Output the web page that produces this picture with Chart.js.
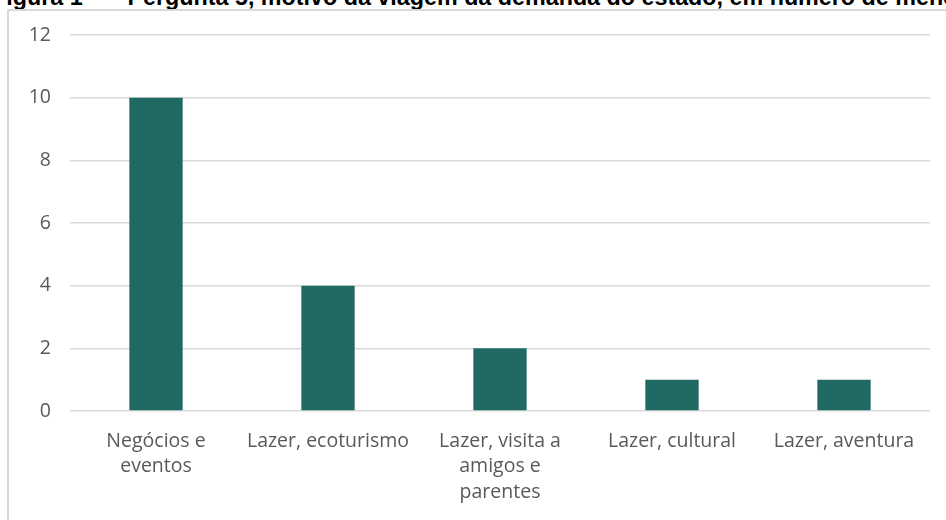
<!DOCTYPE html>
<html>
<head>
<meta charset="utf-8">
<script src="https://cdn.jsdelivr.net/npm/chart.js@4"></script>
<style>
  html, body { margin: 0; padding: 0; background: #fff; overflow: hidden; }
  body { width: 946px; height: 520px; position: relative; }
  #title {
    position: absolute; left: -8px; top: -16px; white-space: nowrap; line-height: 1;
    font: bold 23.3px "Liberation Sans", Arial, sans-serif; color: #000;
  }
  #title span { margin-left: 19px; }
  #frame {
    position: absolute; left: 7px; top: 9px; width: 939px; height: 511px;
    border-left: 2px solid #d9d9d9; border-top: 2px solid #d9d9d9;
    background: #fff;
  }
  #wrap { position: absolute; left: 0; top: 0; width: 937px; height: 509px; }
</style>
</head>
<body>
<div id="title">Figura 1 – <span>Pergunta 5, motivo da viagem da demanda do estado, em número de menções</span></div>
<div id="frame"><div id="wrap"><canvas id="chart"></canvas></div></div>
<script>
const categories = [
  ["Negócios e", "eventos"],
  "Lazer, ecoturismo",
  ["Lazer, visita a", "amigos e", "parentes"],
  "Lazer, cultural",
  "Lazer, aventura"
];
const respostas = [10, 4, 2, 1, 1];
const yTicks = [0, 2, 4, 6, 8, 10, 12];

const labelFont = { family: "'Open Sans', 'Noto Sans', sans-serif", size: 19.5, lineHeight: 1.33 };

new Chart(document.getElementById("chart"), {
  type: "bar",
  data: {
    labels: categories,
    datasets: [{
      label: "Motivo",
      data: respostas,
      backgroundColor: "#216963",
      categoryPercentage: 1,
      barPercentage: 0.31
    }]
  },
  options: {
    responsive: true,
    maintainAspectRatio: false,
    animation: false,
    layout: { padding: { left: 0, right: 16, top: 0, bottom: 0 } },
    plugins: { legend: { display: false }, tooltip: { enabled: false } },
    scales: {
      x: {
        grid: { display: false, drawTicks: false },
        border: { display: false },
        afterFit: axis => { axis.height = 109; },
        ticks: { color: "#595959", font: labelFont, padding: 17, maxRotation: 0, autoSkip: false }
      },
      y: {
        min: yTicks[0],
        max: yTicks[yTicks.length - 1],
        afterBuildTicks: axis => { axis.ticks = yTicks.map(v => ({ value: v })); },
        afterFit: axis => {
          axis.width = 61;
          axis.paddingTop = 24;
          axis.paddingBottom = 0;
        },
        grid: { color: "#d9d9d9", lineWidth: 1.5, drawTicks: false },
        border: { display: false },
        ticks: { color: "#595959", font: labelFont, padding: 19 }
      }
    }
  }
});
</script>
</body>
</html>
